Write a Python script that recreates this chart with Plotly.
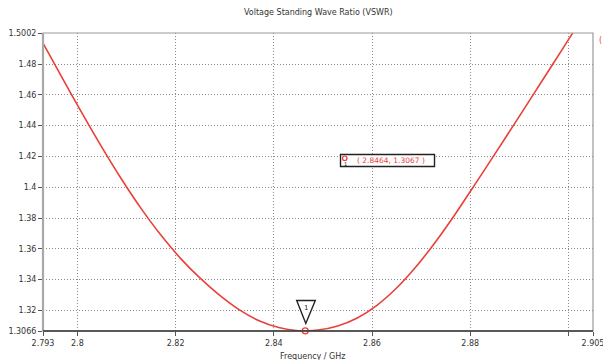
import plotly.graph_objects as go

# VSWR sweep (frequency in GHz)
freq_ghz = [2.793, 2.797, 2.801, 2.805, 2.809, 2.813, 2.817, 2.821, 2.825,
            2.829, 2.833, 2.837, 2.841, 2.845, 2.8464, 2.849, 2.853, 2.857,
            2.861, 2.865, 2.869, 2.873, 2.877, 2.881, 2.885, 2.889, 2.893,
            2.897, 2.901, 2.905]
vswr = [1.4936, 1.4705, 1.4478, 1.4259, 1.4052, 1.3861, 1.3689, 1.3538, 1.3409,
        1.3297, 1.3203, 1.3133, 1.3089, 1.3068, 1.3067, 1.3072, 1.3099, 1.3151,
        1.3233, 1.3345, 1.3485, 1.3648, 1.3828, 1.4020, 1.4215, 1.4412, 1.4610,
        1.4809, 1.5009, 1.5209]

marker_f = 2.8464
marker_v = 1.3067

x_range = [2.793, 2.905]
y_range = [1.3066, 1.5002]
x_ticks = [2.793, 2.8, 2.82, 2.84, 2.86, 2.88, 2.9, 2.905]
x_labels = ["2.793", "2.8", "2.82", "2.84", "2.86", "2.88", "", "2.905"]
y_ticks = [1.3066, 1.32, 1.34, 1.36, 1.38, 1.4, 1.42, 1.44, 1.46, 1.48, 1.5002]
y_labels = ["1.3066", "1.32", "1.34", "1.36", "1.38", "1.4", "1.42", "1.44",
            "1.46", "1.48", "1.5002"]

W, H = 603, 360
L, R, T, B = 43, 10, 33, 29
PW, PH = W - L - R, H - T - B

RED = "#e8403a"
FONT = "DejaVu Sans"


def px(x):
    return (x - L) / PW


def py(y):
    return (H - B - y) / PH


fig = go.Figure()
fig.add_trace(go.Scatter(x=freq_ghz, y=vswr, mode="lines",
                         line=dict(color=RED, width=1.6, shape="spline", smoothing=0.8),
                         hoverinfo="skip", showlegend=False))
fig.add_trace(go.Scatter(x=[marker_f], y=[marker_v], mode="markers",
                         marker=dict(symbol="circle-open", size=6, color=RED,
                                     line=dict(width=1.3, color=RED)),
                         cliponaxis=False, showlegend=False))

axis_common = dict(showgrid=True, gridcolor="#8a8a8a", griddash="1px,2px", gridwidth=1,
                   ticks="outside", ticklen=4, tickcolor="#555", zeroline=False,
                   ticklabeloverflow="allow", automargin=False,
                   tickfont=dict(family=FONT, size=8, color="#333"), showline=False)

fig.update_xaxes(range=x_range, tickmode="array", tickvals=x_ticks, ticktext=x_labels,
                 **axis_common)
fig.update_yaxes(range=y_range, tickmode="array", tickvals=y_ticks, ticktext=y_labels,
                 **axis_common)

shapes = [
    # frame
    dict(type="rect", xref="paper", yref="paper", x0=0, x1=1, y0=0, y1=1,
         line=dict(color="#9a9a9a", width=1.2)),
    dict(type="line", xref="paper", yref="paper", x0=0, x1=0, y0=0, y1=1,
         line=dict(color="#a8a8a8", width=2.2)),
    dict(type="line", xref="paper", yref="paper", x0=0, x1=1, y0=0, y1=0,
         line=dict(color="#333333", width=1.3)),
    # marker flag triangle
    dict(type="path", xref="paper", yref="paper",
         path=f"M {px(296.7)} {py(300.5)} L {px(315.3)} {py(300.5)} L {px(305.8)} {py(323.5)} Z",
         line=dict(color="#222", width=1.4), fillcolor="white"),
    # readout box
    dict(type="rect", xref="paper", yref="paper", x0=px(340.5), x1=px(434.5),
         y0=py(166.5), y1=py(154.5), line=dict(color="#222", width=1.4), fillcolor="white"),
    dict(type="circle", xref="paper", yref="paper", x0=px(342.5), x1=px(347),
         y0=py(160.5), y1=py(156), line=dict(color=RED, width=1.2)),
]

annotations = [
    dict(text="Voltage Standing Wave Ratio (VSWR)", xref="paper", yref="paper",
         x=px(318), y=py(12), showarrow=False, xanchor="center", yanchor="middle",
         font=dict(family=FONT, size=8, color="#333")),
    dict(text="Frequency / GHz", xref="paper", yref="paper",
         x=px(313), y=py(356), showarrow=False, xanchor="center", yanchor="middle",
         font=dict(family=FONT, size=8, color="#333")),
    dict(text="1", xref="paper", yref="paper", x=px(305.8), y=py(307.5),
         showarrow=False, xanchor="center", yanchor="middle",
         font=dict(family=FONT, size=7, color="#222")),
    dict(text=f"( {marker_f:.4f}, {marker_v:.4f} )", xref="paper", yref="paper",
         x=px(390.5), y=py(160.5), showarrow=False, xanchor="center", yanchor="middle",
         font=dict(family=FONT, size=7.5, color=RED)),
    dict(text="1", xref="paper", yref="paper", x=px(345.5), y=py(164), showarrow=False,
         xanchor="center", yanchor="middle", font=dict(family=FONT, size=5, color="#222")),
    dict(text="(", xref="paper", yref="paper", x=px(597), y=py(40), showarrow=False,
         xanchor="left", yanchor="middle", font=dict(family=FONT, size=8, color=RED)),
]

fig.update_layout(width=W, height=H, margin=dict(l=L, r=R, t=T, b=B),
                  paper_bgcolor="white", plot_bgcolor="white",
                  shapes=shapes, annotations=annotations, showlegend=False)

fig.write_html("out.html")
